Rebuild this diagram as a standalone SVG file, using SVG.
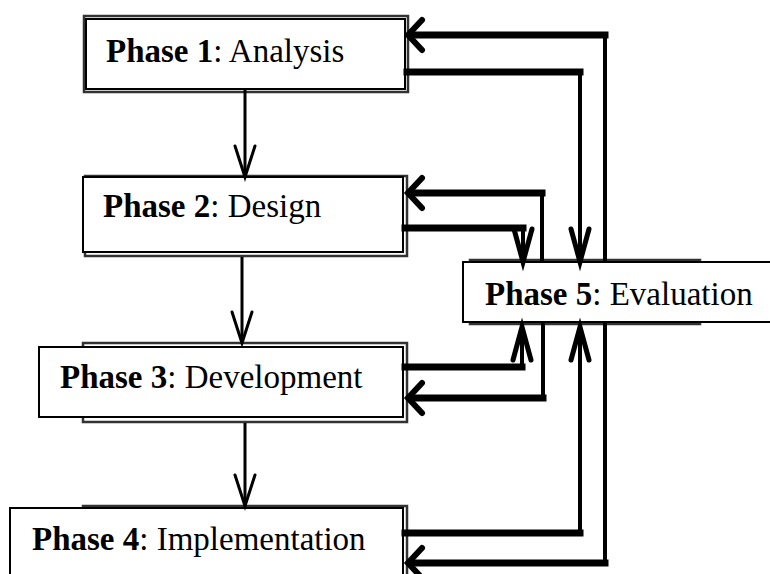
<svg xmlns="http://www.w3.org/2000/svg" width="770" height="574" viewBox="0 0 770 574">
  <style>
    .box { fill: #ffffff; stroke: #000000; stroke-width: 2; }
    .shadow { fill: none; stroke: #333333; stroke-width: 2.5; }
    .label { font-family: "Liberation Serif", "Times New Roman", serif; font-size: 33px; fill: #000000; }
    .bold { font-weight: bold; }
    .flow { fill: none; stroke: #000000; stroke-width: 3; }
    .h { fill: none; stroke: #000000; stroke-width: 7; stroke-linecap: square; }
    .v { fill: none; stroke: #000000; stroke-width: 4; stroke-linecap: square; }
  </style>
  <defs>
    <marker id="thin" markerUnits="userSpaceOnUse" orient="auto" refX="-2" refY="0" markerWidth="40" markerHeight="30" overflow="visible">
      <path d="M-31,-10 L0,0 L-31,10" fill="none" stroke="#000" stroke-width="3" stroke-linecap="round" stroke-linejoin="miter"/>
    </marker>
    <marker id="wide" markerUnits="userSpaceOnUse" orient="auto" refX="-4" refY="0" markerWidth="30" markerHeight="40" overflow="visible">
      <path d="M-14,-15 L0,0 L-14,15" fill="none" stroke="#000" stroke-width="6" stroke-linecap="round" stroke-linejoin="miter"/>
    </marker>
    <marker id="slim" markerUnits="userSpaceOnUse" orient="auto" refX="-3" refY="0" markerWidth="40" markerHeight="30" overflow="visible">
      <path d="M-33,-9 L0,0 L-33,9" fill="none" stroke="#000" stroke-width="5" stroke-linecap="round" stroke-linejoin="miter"/>
    </marker>
  </defs>

  <g id="phase1">
    <rect class="shadow" x="84" y="16" width="324" height="76"/>
    <rect class="box" x="86" y="19" width="319" height="70"/>
    <text class="label" x="106" y="62"><tspan class="bold">Phase 1</tspan>: Analysis</text>
  </g>
  <g id="phase2">
    <rect class="shadow" x="85" y="176" width="322" height="80"/>
    <rect class="box" x="83" y="177" width="320" height="75"/>
    <text class="label" x="103" y="217"><tspan class="bold">Phase 2</tspan>: Design</text>
  </g>
  <g id="phase3">
    <rect class="shadow" x="83" y="343" width="324" height="79"/>
    <rect class="box" x="39" y="347" width="364" height="70"/>
    <text class="label" x="60" y="388"><tspan class="bold">Phase 3</tspan>: Development</text>
  </g>
  <g id="phase4">
    <rect class="shadow" x="83" y="506" width="324" height="72"/>
    <rect class="box" x="10" y="508" width="393" height="70"/>
    <text class="label" x="32" y="550"><tspan class="bold">Phase 4</tspan>: Implementation</text>
  </g>
  <g id="phase5">
    <rect class="shadow" x="470" y="260" width="230" height="64"/>
    <rect class="box" x="463" y="262" width="312" height="60"/>
    <text class="label" x="485" y="305"><tspan class="bold">Phase 5</tspan>: Evaluation</text>
  </g>

  <g id="connectors">
    <path class="flow" d="M245,90 V175" marker-end="url(#thin)"/>
    <path class="flow" d="M242,257 V341" marker-end="url(#thin)"/>
    <path class="flow" d="M245,423 V504" marker-end="url(#thin)"/>

    <g id="c5to1">
      <path class="v" d="M605,261 V35"/>
      <path class="h" d="M605,35 H412" marker-end="url(#wide)"/>
    </g>
    <g id="c1to5">
      <path class="h" d="M407,72 H580"/>
      <path class="v" d="M580,72 V259" marker-end="url(#slim)"/>
    </g>
    <g id="c5to2">
      <path class="v" d="M542,261 V193"/>
      <path class="h" d="M542,193 H412" marker-end="url(#wide)"/>
    </g>
    <g id="c2to5">
      <path class="h" d="M405,228 H523"/>
      <path class="v" d="M523,228 V259" marker-end="url(#slim)"/>
    </g>
    <g id="c3to5">
      <path class="h" d="M405,367 H522"/>
      <path class="v" d="M522,367 V330" marker-end="url(#slim)"/>
    </g>
    <g id="c5to3">
      <path class="v" d="M543,323 V398"/>
      <path class="h" d="M543,398 H412" marker-end="url(#wide)"/>
    </g>
    <g id="c4to5">
      <path class="h" d="M405,533 H580"/>
      <path class="v" d="M580,533 V330" marker-end="url(#slim)"/>
    </g>
    <g id="c5to4">
      <path class="v" d="M605,323 V563"/>
      <path class="h" d="M605,563 H412" marker-end="url(#wide)"/>
    </g>
  </g>
</svg>
